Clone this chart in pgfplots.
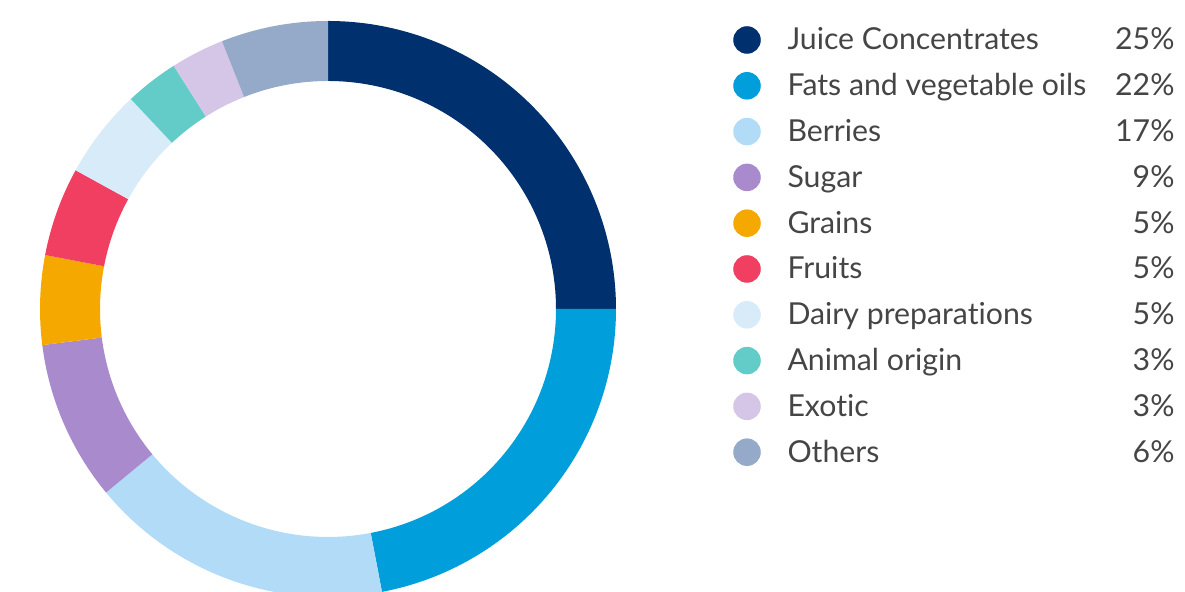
\documentclass[border=0pt]{standalone}
\usepackage{pgfplots}
\usepackage{pgfplotstable}
\pgfplotsset{compat=1.18}
\usepackage{fontspec}
\setmainfont[Ligatures=NoCommon]{Lato}

\definecolor{cA}{HTML}{00306E}
\definecolor{cB}{HTML}{009FDB}
\definecolor{cC}{HTML}{B2DBF7}
\definecolor{cD}{HTML}{A98BCD}
\definecolor{cE}{HTML}{F5A800}
\definecolor{cF}{HTML}{F03F60}
\definecolor{cG}{HTML}{D7EBF9}
\definecolor{cH}{HTML}{63CCC9}
\definecolor{cI}{HTML}{D5C5E7}
\definecolor{cJ}{HTML}{94AAC8}
\definecolor{txt}{HTML}{454545}

% legend rows: y = vertical position of the row (1 unit = 1 px)
\pgfplotstableread[col sep=comma]{
label,value,color,y
Juice Concentrates,25,cA,552
Fats and vegetable oils,22,cB,506.2
Berries,17,cC,460.4
Sugar,9,cD,414.6
Grains,5,cE,368.8
Fruits,5,cF,323
Dairy preparations,5,cG,277.2
Animal origin,3,cH,231.4
Exotic,3,cI,185.6
Others,6,cJ,139.8
}\data

\begin{document}
\begin{tikzpicture}
\begin{axis}[
    x=0.4pt, y=0.4pt,
    xmin=0, xmax=1185, ymin=0, ymax=592,
    scale only axis, hide axis, clip=true,
    font=\fontsize{12.1pt}{14pt}\selectfont\color{txt},
]
% donut ring, clockwise from the top
\xdef\cum{0}
\pgfplotsinvokeforeach{0,...,9}{
    \pgfplotstablegetelem{#1}{value}\of\data \let\v\pgfplotsretval
    \pgfplotstablegetelem{#1}{color}\of\data \let\c\pgfplotsretval
    \pgfmathsetmacro\aA{90-3.6*\cum}
    \pgfmathsetmacro\newcum{\cum+\v}\xdef\cum{\newcum}
    \pgfmathsetmacro\aB{90-3.6*\cum}
    \edef\temp{\noexpand\fill[\c, shift={(axis cs:328,283)}]
        (\aA:115.2pt) arc[start angle=\aA, end angle=\aB, radius=115.2pt]
        -- (\aB:91.2pt) arc[start angle=\aB, end angle=\aA, radius=91.2pt] -- cycle;}
    \temp
}
% legend dots
\addplot[scatter, only marks, mark=*, mark size=5.3pt,
    point meta=explicit symbolic,
    scatter/classes={cA={fill=cA,draw=cA},cB={fill=cB,draw=cB},
        cC={fill=cC,draw=cC},cD={fill=cD,draw=cD},cE={fill=cE,draw=cE},
        cF={fill=cF,draw=cF},cG={fill=cG,draw=cG},cH={fill=cH,draw=cH},
        cI={fill=cI,draw=cI},cJ={fill=cJ,draw=cJ}}]
    table[x expr=747, y=y, meta=color] {\data};
% labels
\addplot[only marks, mark=none, point meta=explicit symbolic,
    nodes near coords, nodes near coords align={anchor=base west},
    every node near coord/.append style={yshift=-4pt, inner sep=0pt}]
    table[x expr=787, y=y, meta=label] {\data};
% percentages
\addplot[only marks, mark=none, point meta=explicit symbolic,
    nodes near coords={\pgfplotspointmeta\%},
    nodes near coords align={anchor=base east},
    every node near coord/.append style={yshift=-4pt, inner sep=0pt}]
    table[x expr=1175, y=y, meta=value] {\data};
\path (axis cs:0,0) rectangle (axis cs:1185,592);
\end{axis}
\end{tikzpicture}
\end{document}
